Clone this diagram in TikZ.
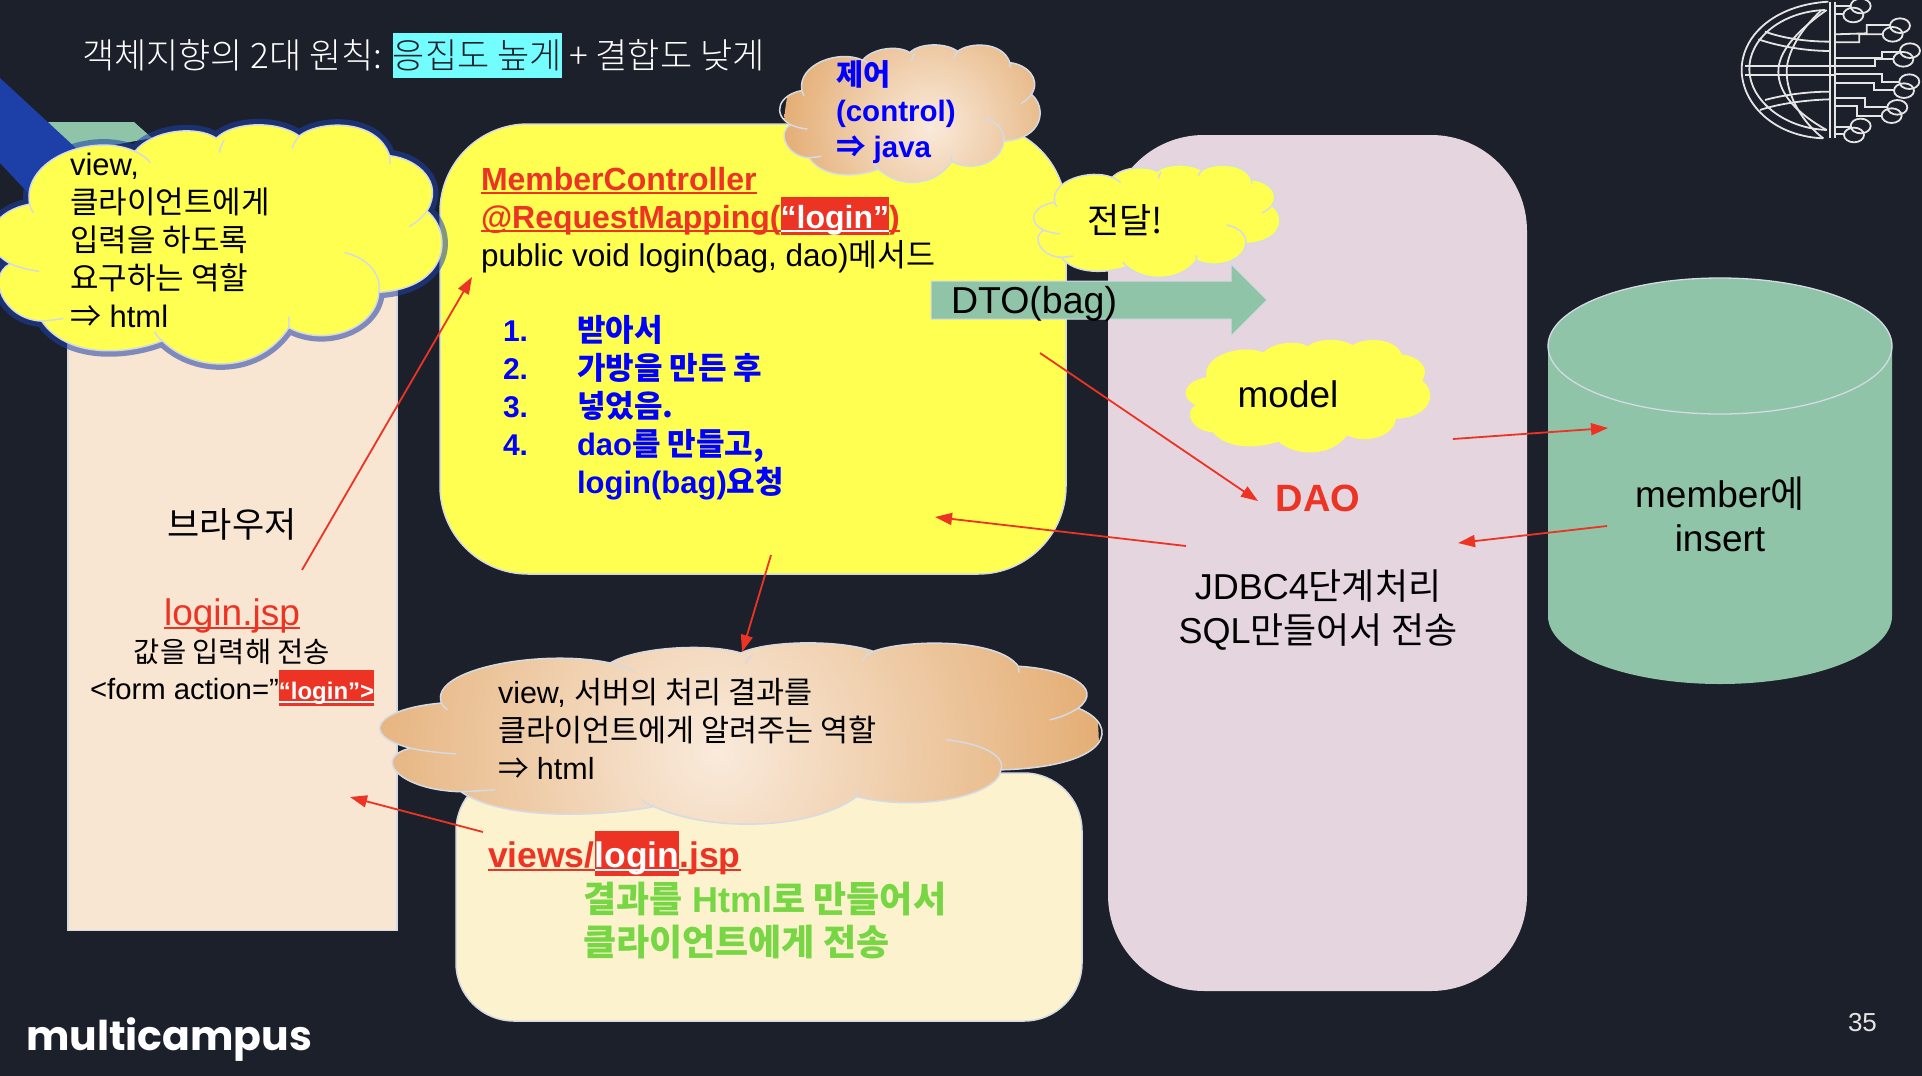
\documentclass[tikz,border=0pt]{standalone}
\usepackage{fontspec}
\usetikzlibrary{arrows.meta}
\setmainfont{Liberation Sans}
\newfontfamily\krfont{Noto Sans CJK KR}
\newfontfamily\krthin{Noto Sans CJK KR Light}
\newfontfamily\logofont{Poppins}
\newcommand{\kr}[1]{{\krfont #1}}
\newcommand{\uline}[1]{\setbox0\hbox{#1}\rlap{\rule[-4pt]{\wd0}{2.2pt}}\box0}
\definecolor{slide}{HTML}{1C202B}
\definecolor{alert}{HTML}{EC3324}
\definecolor{sea}{HTML}{8FC4A8}
\definecolor{sky}{HTML}{74FDFE}
\definecolor{lemon}{HTML}{FFFF52}
\definecolor{peach}{HTML}{F8E5D2}
\definecolor{cream}{HTML}{FDF2CE}
\definecolor{mauve}{HTML}{E5D5DE}
\definecolor{edge}{HTML}{D5DAE3}
\definecolor{leaf}{HTML}{77D644}
\definecolor{ink}{HTML}{0000FF}
\definecolor{royal}{HTML}{1C40A8}
\definecolor{tan}{HTML}{E4AE75}
% red mark behind a word: height above and depth below the line
\newcommand{\redbox}[3]{{\setlength{\fboxsep}{0pt}\colorbox{alert}{\rule[-#2pt]{0pt}{\dimexpr#1pt+#2pt\relax}\textcolor{white}{#3}}}}
% outline of one cloud, in a 100 by 100 square
\newcommand{\cloudrim}{(8.8,33) .. controls (7,14) and (23,3) .. (32.2,11)
  .. controls (36,2) and (46,0) .. (50.3,5.5)
  .. controls (54,-1.5) and (64,-2) .. (68.7,4.6)
  .. controls (73,-2) and (86,-3) .. (88.8,12.8)
  .. controls (95,14) and (101,24) .. (97.1,35.8)
  .. controls (103,45) and (102,68) .. (86.4,69.7)
  .. controls (86,84) and (75,93) .. (66.4,84.4)
  .. controls (60,103) and (46,104) .. (38.3,89.9)
  .. controls (30,96) and (17,97) .. (11.5,81.7)
  .. controls (3,81) and (-1,63) .. (4.5,57.8)
  .. controls (-3,50) and (0,36) .. (8.8,33) -- cycle}
\newcommand{\cloudfolds}{(9.6,36.5) .. controls (9.2,35.5) and (8.9,34) .. (8.8,33)
  (32.2,11) .. controls (33.5,12) and (35,14) .. (35.6,15.6)
  (52,6.4) .. controls (51.5,8) and (51,10) .. (51,11.4)
  (68.7,4.6) .. controls (68,6) and (67.4,8) .. (67.2,9.6)
  (88.8,12.8) -- (88.9,16)
  (97.1,35.8) .. controls (96,38.5) and (95,40.5) .. (93.2,42.2)
  (78.9,53.2) .. controls (85,56) and (87,64) .. (86.4,69.7)
  (66.4,84.4) -- (66.4,80)
  (38.3,89.9) .. controls (37.5,89) and (37,87.5) .. (36.6,86.2)
  (11.5,81.7) .. controls (13,81.5) and (15,81) .. (16.2,80.7)
  (4.5,57.8) .. controls (6.5,59.5) and (9,60.5) .. (10.8,60.9)}
\tikzset{
  panel/.style={draw=edge,line width=1.5pt,inner sep=0pt},
  hop/.style={-{Triangle[length=17pt,width=12pt]},draw=alert,line width=1.8pt},
  txt/.style={inner sep=0pt,outer sep=0pt,anchor=base west,align=left},
  mid/.style={inner sep=0pt,outer sep=0pt,anchor=base,align=center},
  wire/.style={draw=white!90!black,line width=1.8pt},
  fold/.style={draw=edge,line width=1.5pt,line cap=round},
  glow/.style={inner color=peach!80!white,outer color=tan,shading=radial},
}
\begin{document}
\begin{tikzpicture}[x=1pt,y=-1pt]
\useasboundingbox (0,0) rectangle (1922,1076);
\fill[slide] (0,0) rectangle (1922,1076);

% shapes left behind the first cloud
\fill[sea] (48,122) -- (134,122) -- (152,138) -- (75,152) -- cycle;
\fill[royal] (0,78) -- (78,150) -- (30,195) -- (0,163) -- cycle;

% boxes
\node[panel,fill=peach,minimum width=329pt,minimum height=731pt] (browser) at (232.5,565) {};
\node[panel,fill=lemon,rounded corners=88pt,minimum width=626pt,minimum height=450pt] (controller) at (753,349) {};
\node[panel,fill=mauve,draw=none,rounded corners=96pt,minimum width=419pt,minimum height=856pt] (modelbox) at (1317.5,563) {};
\node[panel,fill=cream,rounded corners=58pt,minimum width=626pt,minimum height=248pt] (resultbox) at (769,897) {};

% table
\fill[sea] (1548,346) -- (1548,616) arc[x radius=172,y radius=68,start angle=180,end angle=0] -- (1892,346) arc[x radius=172,y radius=68,start angle=0,end angle=-180] -- cycle;
\draw[edge,line width=1.3pt] (1548,346) arc[x radius=172,y radius=68,start angle=180,end angle=0] arc[x radius=172,y radius=68,start angle=0,end angle=-180];

% arrow for the bag
\filldraw[fill=sea,draw=edge,line width=1pt] (931,281) -- (1231,281) -- (1231,264) -- (1267,300) -- (1231,336) -- (1231,319) -- (931,319) -- cycle;

% clouds
\begin{scope}[shift={(-10,125)},xscale=4.5,yscale=2.40]
\draw[royal,draw opacity=0.55,line width=12pt] \cloudrim;
\fill[lemon] \cloudrim;
\draw[fold,draw=edge] \cloudrim;
\draw[fold] \cloudfolds;
\end{scope}
\begin{scope}[shift={(378,643)},xscale=7.21,yscale=1.82]
\begin{scope}
\clip \cloudrim;
\shade[glow] (47,60) ellipse (53 and 210);
\end{scope}
\draw[fold] \cloudrim \cloudfolds;
\end{scope}
\begin{scope}[shift={(779,45)},xscale=2.60,yscale=1.38]
\begin{scope}
\clip \cloudrim;
\shade[glow] (58,59) ellipse (56 and 105);
\end{scope}
\draw[fold] \cloudrim \cloudfolds;
\end{scope}
\begin{scope}[shift={(1033,165)},xscale=2.46,yscale=1.13]
\fill[lemon] \cloudrim;
\draw[fold] \cloudrim \cloudfolds;
\end{scope}
\begin{scope}[shift={(1185,340)},xscale=2.44,yscale=1.13]
\fill[lemon] \cloudrim;
\end{scope}

% title
\node[txt,text=white,font=\krthin\fontsize{35}{40}\selectfont] (title) at (82,68) {객체지향의 2대 원칙: {\setlength{\fboxsep}{0pt}\colorbox{sky}{\rule[-10pt]{0pt}{45pt}\textcolor{slide}{응집도 높게}}} + 결합도 낮게};

% browser
\node[txt,font=\fontsize{31}{38}\selectfont] (asktext) at (70,327) {view,\\\kr{클라이언트에게}\\\kr{입력을 하도록}\\\kr{요구하는 역할}\\\kr{⇒} html};
\node[mid,font=\fontsize{35}{40}\selectfont] (browsertext) at (232,537) {\kr{브라우저}};
\node[mid,text=alert,font=\fontsize{37}{40}\selectfont] (loginjsp) at (232,625) {\uline{login.jsp}};
\node[mid,font=\fontsize{28.5}{34}\selectfont] (sendtext) at (232,662) {\kr{값을 입력해 전송}};
\node[txt,font=\fontsize{29.3}{34}\selectfont] (formtext) at (90,699) {<form action=”\redbox{29}{7}{\fontsize{24}{28}\selectfont\bfseries\uline{“login”>}}};

% controller
\node[txt,text=ink,font=\fontsize{29.5}{36}\selectfont\bfseries] (controltext) at (836,157) {\kr{제어}\\(control)\\\kr{⇒} java};
\node[txt,text=alert,font=\fontsize{32}{38}\selectfont\bfseries] (controllername) at (481,190) {\uline{MemberController}};
\node[txt,text=alert,font=\fontsize{32}{38}\selectfont\bfseries] (mapping) at (481,228) {\uline{@RequestMapping(}\redbox{31}{7}{\uline{“login”}}\uline{)}};
\node[txt,font=\fontsize{31.5}{38}\selectfont] (method) at (481,266) {public void login(bag, dao)\kr{메서드}};
\node[txt,text=ink,font=\fontsize{30}{38}\selectfont\bfseries] (steps) at (503,455) {1.\\2.\\3.\\4.};
\node[txt,text=ink,font=\fontsize{31}{38}\selectfont\bfseries] (steptext) at (577,493) {\kr{받아서}\\\kr{가방을 만든 후}\\\kr{넣었음.}\\dao\kr{를 만들고,}\\login(bag)\kr{요청}};

% result
\node[txt,font=\fontsize{30.5}{38}\selectfont] (tellstext) at (498,779) {view, \kr{서버의 처리 결과를}\\\kr{클라이언트에게 알려주는 역할}\\\kr{⇒} html};
\node[txt,text=alert,font=\fontsize{35.5}{40}\selectfont\bfseries] (viewsjsp) at (488,867) {\uline{views/}\redbox{36}{9}{\uline{login}}\uline{.jsp}};
\node[txt,text=leaf,font=\fontsize{36}{43}\selectfont\bfseries] (greentext) at (583,955) {\kr{결과를} Html\kr{로 만들어서}\\\kr{클라이언트에게 전송}};

% model
\node[txt,font=\fontsize{35}{40}\selectfont] (passtext) at (1087,233) {\kr{전달!}};
\node[txt,font=\fontsize{37.5}{40}\selectfont] (bagtext) at (951,313) {DTO(bag)};
\node[mid,font=\fontsize{37}{40}\selectfont] (modeltext) at (1288,407) {model};
\node[mid,text=alert,font=\fontsize{38}{40}\selectfont\bfseries] (daotext) at (1318,511) {DAO};
\node[mid,font=\fontsize{36}{44}\selectfont] (jdbctext) at (1318,643) {JDBC4\kr{단계처리}\\SQL\kr{만들어서 전송}};
\node[mid,font=\fontsize{37}{44}\selectfont] (membertext) at (1720,551) {member\kr{에}\\insert};

% flow
\coordinate (browserout) at (302,570);
\coordinate (controllerin) at (472,277);
\coordinate (controllerout) at (771,555);
\coordinate (cloudin) at (742,652);
\coordinate (viewsout) at (483,832);
\coordinate (browserin) at (350,797);
\coordinate (bagout) at (1040,353);
\coordinate (daoin) at (1258,501);
\coordinate (daoout) at (1186,546);
\coordinate (backin) at (935,517);
\coordinate (sqlout) at (1453,439);
\coordinate (tablein) at (1608,428);
\coordinate (tableout) at (1607,526);
\coordinate (sqlin) at (1458,543);
\draw[hop] (browserout) -- (controllerin);
\draw[hop] (controllerout) -- (cloudin);
\draw[hop] (viewsout) -- (browserin);
\draw[hop] (bagout) -- (daoin);
\draw[hop] (daoout) -- (backin);
\draw[hop] (sqlout) -- (tablein);
\draw[hop] (tableout) -- (sqlin);

% globe
\begin{scope}[shift={(1650,0)},x=0.3333pt,y=-0.3333pt]
\draw[wire] (535,5) .. controls (370,15) and (272,110) .. (275,215) .. controls (280,320) and (380,410) .. (520,415);
\draw[wire] (525,30) .. controls (390,35) and (295,120) .. (298,210) .. controls (300,300) and (400,385) .. (530,390);
\draw[wire] (530,30) .. controls (430,100) and (385,160) .. (385,215) .. controls (385,280) and (440,340) .. (530,390);
\draw[wire] (515,30) .. controls (450,90) and (410,160) .. (410,215) .. controls (410,290) and (460,370) .. (520,415);
\draw[wire] (540,5) -- (540,415) (555,5) -- (555,415);
\draw[wire] (285,197) -- (555,197) (285,225) -- (555,225);
\draw[wire] (345,95) .. controls (400,115) and (470,125) .. (540,125) (325,118) .. controls (390,140) and (470,153) .. (540,153);
\draw[wire] (345,300) .. controls (400,285) and (470,275) .. (540,275) (330,330) .. controls (390,310) and (470,300) .. (540,298);
\draw[wire] (555,18) -- (603,18) (555,42) -- (583,42);
\draw[wire] (555,103) -- (650,100) -- (650,75) -- (722,75) (555,127) -- (628,127) -- (628,103) -- (700,103);
\draw[wire] (555,175) -- (695,175) -- (695,155) -- (755,155) (555,197) -- (675,197) -- (675,178) -- (730,178);
\draw[wire] (555,222) -- (695,222) -- (695,245) -- (750,245) (555,248) -- (672,248) -- (672,270) -- (735,270);
\draw[wire] (555,295) -- (645,295) -- (645,322) -- (715,322) (555,318) -- (622,318) -- (622,347) -- (695,347);
\draw[wire] (555,380) -- (605,380) (555,403) -- (585,403);
\foreach \cx/\cy in {632/18,610/45,750/77,728/103,780/152,760/178,778/245,762/272,742/322,725/347,632/378,612/405}
  \draw[wire] (\cx,\cy) ellipse (30 and 22);
\end{scope}

% footer
\node[txt,text=white,font=\logofont\fontsize{41}{44}\selectfont\bfseries] (logo) at (26,1050) {multicampus};
\node[txt,text=white!90!black,font=\fontsize{26}{30}\selectfont] (pagenumber) at (1848,1031) {35};
\end{tikzpicture}
\end{document}
